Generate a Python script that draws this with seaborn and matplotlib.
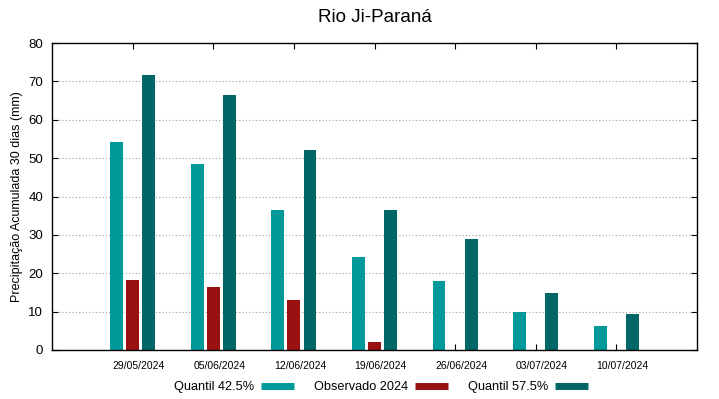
import matplotlib
matplotlib.use("Agg")
import matplotlib.pyplot as plt
import matplotlib.transforms as mtransforms
from matplotlib.lines import Line2D
import numpy as np
import pandas as pd
import seaborn as sns

dates = ["29/05/2024", "05/06/2024", "12/06/2024", "19/06/2024",
         "26/06/2024", "03/07/2024", "10/07/2024"]
q425 = [54.2, 48.4, 36.4, 24.2, 18.0, 10.0, 6.3]
observado = [18.2, 16.3, 12.9, 2.2, np.nan, np.nan, np.nan]
q575 = [71.7, 66.5, 52.2, 36.4, 29.0, 14.8, 9.4]
series_names = ["Quantil 42.5%", "Observado 2024", "Quantil 57.5%"]
colors = ["#009999", "#991111", "#006666"]

sns.set_theme(style="ticks")
plt.rcParams["font.family"] = ["Liberation Sans", "DejaVu Sans"]
plt.rcParams["text.color"] = "black"
plt.rcParams["axes.labelcolor"] = "black"

rows = []
for name, vals in zip(series_names, [q425, observado, q575]):
    for d, v in zip(dates, vals):
        rows.append({"data": d, "serie": name, "valor": v})
df = pd.DataFrame(rows)

fig = plt.figure(figsize=(7.19, 3.99), dpi=100)
ax = fig.add_axes([52/719, 1-350/399, (697-52)/719, (350-43)/399])

sns.barplot(data=df, x="data", y="valor", hue="serie", order=dates,
            hue_order=series_names, palette=colors, width=0.6, gap=0.2,
            saturation=1, errorbar=None, ax=ax, legend=False, linewidth=0)

ax.set_xlim(-1, 7)
ax.set_ylim(0, 80)
ax.set_yticks(range(0, 81, 10))
ax.set_xlabel("")
ax.set_ylabel("Precipitação Acumulada 30 dias (mm)", fontsize=9, labelpad=3.5,
              color="black")
ax.set_title("Rio Ji-Paraná", fontsize=13.5, pad=15, color="black")

for y in range(10, 80, 10):
    ax.axhline(y, color="#a0a0a0", lw=0.8, ls=(0, (1, 2)), zorder=0)

for s in ax.spines.values():
    s.set_visible(True)
    s.set_color("black")
    s.set_linewidth(1)

ax.tick_params(axis="y", direction="in", length=4, width=0.8, right=True,
               labelsize=9.5, pad=6.5, colors="black")
ax.tick_params(axis="x", direction="in", length=4, width=0.8, top=True,
               labelsize=7.5, pad=8, colors="black")
offset = mtransforms.ScaledTranslation(6/100, 0, fig.dpi_scale_trans)
for lab in ax.get_xticklabels():
    lab.set_transform(lab.get_transform() + offset)

handles = [Line2D([], [], color=c, lw=5, solid_capstyle="butt") for c in colors]
fig.legend(handles, series_names, loc="center", bbox_to_anchor=(381/719, 1-387/399),
           ncol=3, frameon=False, markerfirst=False, fontsize=9.2,
           handlelength=2.6, handletextpad=0.55, columnspacing=1.55,
           borderpad=0, borderaxespad=0, labelcolor="black")

fig.savefig("out.png", dpi=100)
